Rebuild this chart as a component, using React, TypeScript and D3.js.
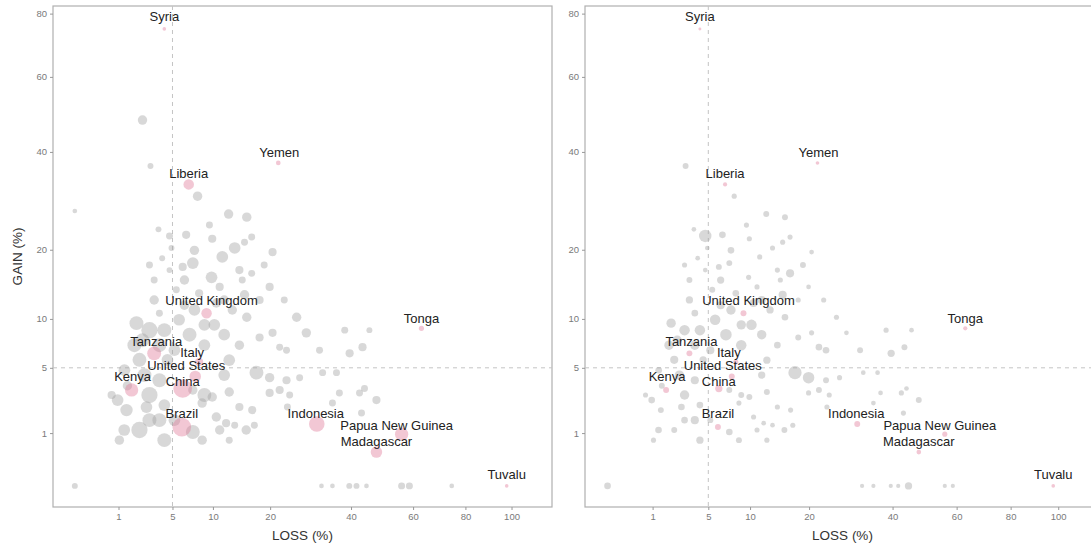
import React, { useEffect, useRef } from "react";
import * as d3 from "d3";

// ---- data (LOSS %, GAIN %, marker size in panel A and panel B) ----
const countries = [
  "Syria", "Yemen", "Liberia", "United Kingdom", "Tonga", "Tanzania", "Italy", "United States",
  "Kenya", "China", "Brazil", "Indonesia", "Papua New Guinea", "Madagascar", "Tuvalu",
];
const loss = [
  4.2, 21.7, 6.8, 9.1, 63, 3.3, 8.1, 7.6, 1.69, 6.1, 6.0, 30.7, 56, 47.7, 97.8,
  2.4, 3.0, 7.9, 0, 12.4, 15.5, 3.67, 4.7, 6.5, 9.9, 16.4, 20.5, 4.9, 7.3, 11.4, 13.4, 4.0, 6.1,
  14.2, 16.4, 4.7, 9.8, 19.9, 11.0, 14.7, 5.4, 8.1, 17.9, 3.75, 10.5, 13.0, 15.5, 25.8, 20.5,
  17.9, 28.1, 45.5, 39.6, 43.4, 35.9, 32.2, 1.99, 2.92, 2.39, 4.2, 5.7, 6.9, 8.8, 11.7, 10.2,
  2.19, 4.5, 1.29, 3.75, 2.92, 4.2, 1.4, 2.92, 2.19, 2.69, 8.8, 7.3, 8.5, 9.9, 10.5, 12.5, 14.2,
  16.5, 15.4, 11.0, 12.0, 7.3, 8.5, 17.3, 19.9, 23.5, 26.5, 22.0, 19.9, 42.5, 47.7, 36.7, 34.8,
  22.0, 23.5, 44, 43.1, 23.7, 0, 31.9, 34.8, 39.5, 41.6, 44.6, 56, 58.7, 74.5, 3.3, 6.3, 0.71,
  1.45, 5.2, 13.4,
  1.86, 3.75, 5.2, 2.54, 0.96, 3.75, 1.28, 4.2, 12.5, 14.2, 11.7, 1.04, 8.8, 7.5, 11.7, 15.1,
  6.3, 3.3, 2.92, 7.5, 9.5, 15.1, 18.8, 23.0, 24.2, 31.4, 38.2, 16.9, 12.5,
];
const gain = [
  74.9, 37.4, 32.6, 10.7, 8.9, 6.3, 5.5, 4.3, 3.3, 3.4, 1.24, 1.37, 0.96, 0.41, 0,
  48.0, 36.7, 30.1, 27.1, 26.5, 25.9, 23.6, 22.4, 22.6, 21.9, 22.2, 19.6, 20.3, 17.8, 18.8, 20.3,
  18.6, 17.2, 16.7, 16.2, 16.7, 15.6, 14.2, 14.2, 15.2, 13.8, 13.3, 12.4, 10.7, 12.0, 11.1, 10.2,
  10.2, 8.4, 7.9, 8.4, 8.7, 6.3, 6.9, 4.6, 4.6, 9.5, 8.7, 7.6, 8.7, 9.9, 8.2, 7.1, 8.2, 9.3, 5.7,
  5.7, 4.8, 4.0, 2.96, 2.34, 2.06, 1.55, 1.12, 2.23, 2.96, 3.3, 2.46, 2.83, 1.7, 3.16, 2.23, 2.06,
  1.12, 1.12, 1.41, 1.04, 0.75, 4.6, 4.2, 4.0, 4.2, 3.3, 3.1, 3.1, 2.64, 3.1, 2.46, 6.9, 6.6, 3.4,
  1.9, 2.23, 0, 0, 0, 0, 0, 0, 0, 0, 0, 12.4, 11.7, 2.96, 3.6, 1.55, 1.32,
  7.1, 7.1, 6.6, 4.4, 2.64, 1.55, 1.12, 0.75, 5.67, 7.1, 4.4, 0.75, 9.3, 11.1, 12.4, 13.1,
  15.2, 15.2, 17.5, 19.9, 24.4, 21.3, 17.5, 12.4, 2.96, 6.6, 8.7, 1.32, 0.75,
];
const sizeA = [
  3, 5, 25, 25, 6, 44, 15, 30, 40, 79, 79, 55, 40, 30, 3,
  20, 8, 20, 5, 20, 20, 8, 11, 15, 15, 11, 15, 8, 31, 31, 31, 8, 15, 15, 11, 8, 31, 15, 15, 11, 11,
  15, 15, 11, 20, 20, 20, 20, 15, 15, 20, 8, 15, 15, 11, 11, 44, 60, 44, 44, 31, 44, 31, 31, 31,
  44, 31, 31, 44, 60, 31, 35, 44, 60, 31, 44, 20, 20, 20, 20, 20, 15, 15, 20, 20, 15, 44, 20, 44,
  20, 15, 11, 15, 15, 11, 15, 11, 11, 11, 11, 11, 11, 11, 8, 5, 5, 8, 8, 5, 11, 11, 5, 20, 20, 15,
  20, 31, 11,
  44, 44, 31, 44, 31, 44, 31, 44, 31, 20, 31, 20, 31, 31, 20, 20,
  20, 11, 11, 20, 11, 11, 11, 11, 11, 11, 11, 11, 11,
];
const sizeB = [
  2, 3, 4, 8, 4, 8, 6, 8, 8, 12, 8, 8, 6, 5, 3,
  0, 8, 6, 0, 8, 8, 5, 35, 10, 6, 6, 5, 5, 8, 6, 6, 5, 8, 6, 15, 5, 6, 5, 6, 6, 8, 10, 6, 10, 15,
  12, 10, 6, 6, 8, 5, 5, 12, 8, 5, 5, 20, 25, 20, 25, 25, 30, 25, 20, 25, 15, 12, 10, 15, 20, 10,
  8, 10, 8, 10, 8, 8, 6, 8, 6, 8, 6, 6, 8, 6, 5, 10, 8, 40, 30, 8, 6, 8, 6, 6, 8, 5, 5, 10, 10, 5,
  6, 6, 10, 4, 4, 4, 4, 12, 4, 4, 0, 12, 15, 6, 8, 8, 5,
  20, 20, 15, 20, 10, 15, 10, 12, 12, 10, 12, 6, 20, 20, 15, 15,
  12, 8, 6, 10, 6, 6, 8, 6, 6, 8, 6, 6, 6,
];
const xTicks = [1, 5, 10, 20, 40, 60, 80, 100];
const yTicks = [1, 5, 10, 20, 40, 60, 80];
const labelNudge: Record<string, [number, number]> = {
  Syria: [0, -12], Yemen: [1, -10], Liberia: [0, -11], "United Kingdom": [5, -13], Tonga: [0, -10],
  Tanzania: [2, -12], Italy: [-7, -10], "United States": [-9, -11], Kenya: [1, -13], China: [0, -7],
  Brazil: [0, -14], Indonesia: [-1, -11], "Papua New Guinea": [-5, -9], Madagascar: [0, -11], Tuvalu: [0, -11],
};

const FONT = "'Liberation Sans', Arial, sans-serif";

export default function App() {
  const ref = useRef<SVGSVGElement>(null);
  useEffect(() => {
    const svg = d3.select(ref.current);
    svg.selectAll("*").remove();
    const top = 6, bottom = 507;
    const rScale = d3.scaleSqrt().domain([0, 100]).range([0, 10.5]);
    const panels = [
      { x0: 53, x1: 552, sizes: sizeA, yTitle: true },
      { x0: 585, x1: 1100, sizes: sizeB, yTitle: false },
    ];
    const rows = loss.map((_, i) => ({ c: countries[i] || "", i }));
    panels.forEach((p) => {
      const x = d3.scaleSqrt().domain([-0.25, 119.4]).range([p.x0, p.x1]);
      const y = d3.scaleSqrt().domain([-0.16, 82.6]).range([bottom, top]);
      const g = svg.append("g");
      g.append("rect").attr("x", p.x0).attr("y", top).attr("width", p.x1 - p.x0)
        .attr("height", bottom - top).attr("fill", "white").attr("stroke", "#b0b0b0").attr("stroke-width", 1.2);
      // reference lines
      g.append("line").attr("x1", x(5)).attr("x2", x(5)).attr("y1", top).attr("y2", bottom)
        .attr("stroke", "#c4c4c4").attr("stroke-dasharray", "4,4");
      g.append("line").attr("x1", p.x0).attr("x2", p.x1).attr("y1", y(5)).attr("y2", y(5))
        .attr("stroke", "#c4c4c4").attr("stroke-dasharray", "4,4");
      // axes
      const styleAxis = (s: any) => {
        s.select(".domain").remove();
        s.selectAll("line").attr("stroke", "#999");
        s.selectAll("text").attr("fill", "#7a7a7a").attr("font-size", 9.5).attr("font-family", FONT);
      };
      g.append("g").attr("transform", `translate(0,${bottom})`)
        .call(d3.axisBottom(x).tickValues(xTicks).tickFormat(d3.format("d")).tickSize(3).tickPadding(3))
        .call(styleAxis);
      g.append("g").attr("transform", `translate(${p.x0},0)`)
        .call(d3.axisLeft(y).tickValues(yTicks).tickFormat(d3.format("d")).tickSize(3).tickPadding(3))
        .call(styleAxis);
      g.append("text").attr("x", (p.x0 + p.x1) / 2).attr("y", 540).attr("text-anchor", "middle")
        .attr("font-family", FONT).attr("font-size", 13.5).attr("fill", "#333").text("LOSS (%)");
      if (p.yTitle) {
        g.append("text").attr("transform", `translate(22,${(top + bottom) / 2}) rotate(-90)`)
          .attr("text-anchor", "middle").attr("font-family", FONT).attr("font-size", 13.5)
          .attr("fill", "#333").text("GAIN (%)");
      }
      // points
      const grey = rows.filter((d) => !d.c);
      const pink = rows.filter((d) => d.c);
      g.append("g").selectAll("circle").data(grey).join("circle")
        .attr("cx", (d) => x(loss[d.i])).attr("cy", (d) => y(gain[d.i]))
        .attr("r", (d) => rScale(p.sizes[d.i])).attr("fill", "#a3a3a3").attr("fill-opacity", 0.42);
      g.append("g").selectAll("circle").data(pink).join("circle")
        .attr("cx", (d) => x(loss[d.i])).attr("cy", (d) => y(gain[d.i]))
        .attr("r", (d) => rScale(p.sizes[d.i])).attr("fill", "#e07a98").attr("fill-opacity", 0.42);
      g.append("g").selectAll("text").data(pink).join("text")
        .attr("x", (d) => x(loss[d.i]) + labelNudge[d.c][0])
        .attr("y", (d) => y(gain[d.i]) + labelNudge[d.c][1])
        .attr("text-anchor", "middle").attr("dominant-baseline", "central")
        .attr("font-family", FONT).attr("font-size", 13).attr("fill", "#222")
        .text((d) => d.c);
    });
  }, []);
  return (
    <div style={{ position: "fixed", left: 0, top: 0 }}>
      <svg ref={ref} width={1091} height={550} style={{ display: "block", background: "white" }} />
    </div>
  );
}
